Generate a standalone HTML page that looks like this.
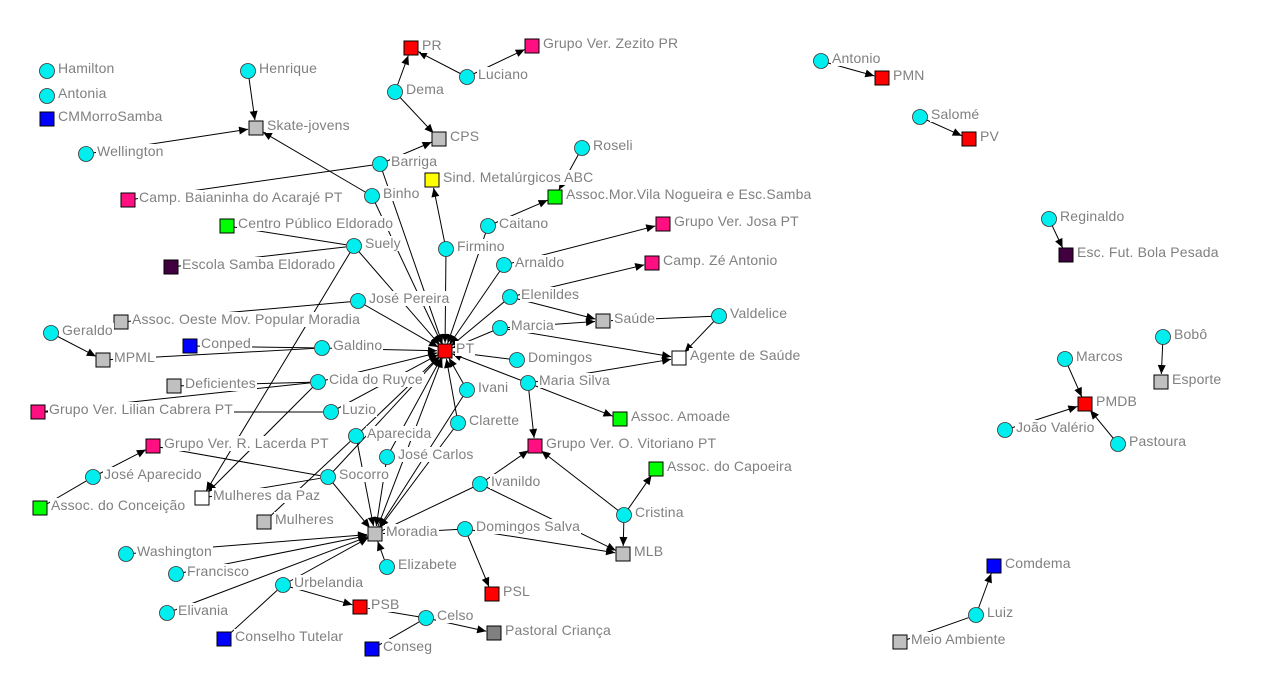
<!DOCTYPE html>
<html><head><meta charset="utf-8"><style>
html,body{margin:0;padding:0;background:#fff;}
#c{position:relative;width:1262px;height:699px;overflow:hidden;}
svg{position:absolute;left:0;top:0;}
.l{position:absolute;font-family:"Liberation Sans",sans-serif;font-size:14px;letter-spacing:0.15px;line-height:15px;color:#808080;background:#fff;white-space:nowrap;padding:0 1px;}
</style></head><body><div id="c"><svg id="s" width="1262" height="699"></svg></div>
<script>
var N={
Hamilton:[47,71,'c'],Antonia:[47,96,'c'],Henrique:[248,71,'c'],Wellington:[86,154,'c'],Dema:[395,92,'c'],Luciano:[467,77,'c'],
Antonio:[821,61,'c'],'Salomé':[920,117,'c'],Roseli:[582,148,'c'],Barriga:[380,164,'c'],Binho:[372,196,'c'],Caitano:[488,226,'c'],
Suely:[354,246,'c'],Firmino:[446,249,'c'],Arnaldo:[504,265,'c'],Reginaldo:[1049,219,'c'],Elenildes:[510,297,'c'],'José Pereira':[358,301,'c'],
Valdelice:[719,316,'c'],Marcia:[500,328,'c'],Geraldo:[51,333,'c'],'Bobô':[1163,337,'c'],Galdino:[322,348,'c'],Domingos:[517,360,'c'],
Marcos:[1065,359,'c'],Ivani:[467,390,'c'],'Cida do Ruyce':[318,382,'c'],'Maria Silva':[528,383,'c'],Luzio:[331,412,'c'],Clarette:[458,423,'c'],
Aparecida:[356,436,'c'],'João Valério':[1005,430,'c'],Pastoura:[1118,444,'c'],'José Carlos':[387,457,'c'],Socorro:[328,477,'c'],
'José Aparecido':[93,477,'c'],Ivanildo:[480,484,'c'],Cristina:[624,515,'c'],'Domingos Salva':[465,529,'c'],Washington:[126,554,'c'],
Elizabete:[387,567,'c'],Francisco:[176,574,'c'],Urbelandia:[283,585,'c'],Elivania:[167,613,'c'],Celso:[426,618,'c'],Luiz:[976,615,'c'],
PR:[411,48,'#ff0000'],'Grupo Ver. Zezito PR':[532,46,'#ff0f7f'],CMMorroSamba:[47,119,'#0000ff'],'Skate-jovens':[256,128,'#c0c0c0'],
CPS:[439,139,'#c0c0c0'],PMN:[882,78,'#ff0000'],PV:[969,139,'#ff0000'],'Sind. Metalúrgicos ABC':[432,180,'#ffff00'],
'Assoc.Mor.Vila Nogueira e Esc.Samba':[555,197,'#00ff00'],'Camp. Baianinha do Acarajé PT':[128,200,'#ff0f7f'],
'Centro Público Eldorado':[227,226,'#00ff00'],'Grupo Ver. Josa PT':[663,224,'#ff0f7f'],'Escola Samba Eldorado':[171,267,'#400040'],
'Camp. Zé Antonio':[652,263,'#ff0f7f'],'Esc. Fut. Bola Pesada':[1066,255,'#400040'],'Assoc. Oeste Mov. Popular Moradia':[121,322,'#c0c0c0'],
'Saúde':[603,321,'#c0c0c0'],Conped:[190,346,'#0000ff'],PT:[445,351,'#ff0000'],MPML:[103,360,'#c0c0c0'],'Agente de Saúde':[679,358,'#ffffff'],
Deficientes:[174,386,'#c0c0c0'],Esporte:[1161,382,'#c0c0c0'],'Grupo Ver. Lilian Cabrera PT':[38,412,'#ff0f7f'],PMDB:[1085,404,'#ff0000'],
'Assoc. Amoade':[620,419,'#00ff00'],'Grupo Ver. R. Lacerda PT':[153,446,'#ff0f7f'],'Grupo Ver. O. Vitoriano PT':[535,446,'#ff0f7f'],
'Assoc. do Capoeira':[656,469,'#00ff00'],'Mulheres da Paz':[202,498,'#ffffff'],'Assoc. do Conceição':[40,508,'#00ff00'],
Mulheres:[264,522,'#c0c0c0'],Moradia:[375,534,'#c0c0c0'],MLB:[623,554,'#c0c0c0'],Comdema:[994,566,'#0000ff'],PSL:[492,594,'#ff0000'],
PSB:[360,607,'#ff0000'],'Pastoral Criança':[494,633,'#808080'],'Meio Ambiente':[900,642,'#c0c0c0'],Conseg:[372,649,'#0000ff'],
'Conselho Tutelar':[224,639,'#0000ff']};
var E=[
['Henrique','Skate-jovens',1],['Binho','Skate-jovens',1],['Wellington','Skate-jovens',1],['Dema','PR',1],['Dema','CPS',1],['Luciano','PR',1],
['Luciano','Grupo Ver. Zezito PR',1],['Barriga','CPS',1],['Camp. Baianinha do Acarajé PT','Barriga',0],['Firmino','Sind. Metalúrgicos ABC',1],
['Caitano','Assoc.Mor.Vila Nogueira e Esc.Samba',1],['Roseli','Assoc.Mor.Vila Nogueira e Esc.Samba',1],['Arnaldo','Grupo Ver. Josa PT',1],
['Elenildes','Camp. Zé Antonio',1],['Elenildes','Saúde',1],['Marcia','Saúde',1],['Valdelice','Saúde',0],['Valdelice','Agente de Saúde',1],
['Marcia','Agente de Saúde',1],['Maria Silva','Agente de Saúde',1],['Maria Silva','Assoc. Amoade',1],['Maria Silva','Grupo Ver. O. Vitoriano PT',1],
['Ivanildo','Grupo Ver. O. Vitoriano PT',1],['Cristina','Grupo Ver. O. Vitoriano PT',1],['Cristina','Assoc. do Capoeira',1],['Cristina','MLB',1],
['Domingos Salva','MLB',1],['Ivanildo','MLB',1],['Domingos Salva','PSL',1],['Domingos Salva','Moradia',0],['Ivanildo','Moradia',0],
['Antonio','PMN',1],['Salomé','PV',1],['Reginaldo','Esc. Fut. Bola Pesada',1],['Bobô','Esporte',1],['Marcos','PMDB',1],['João Valério','PMDB',1],
['Pastoura','PMDB',1],['Luiz','Comdema',1],['Meio Ambiente','Luiz',0],['Geraldo','MPML',1],['MPML','Galdino',0],['Conped','Galdino',0],
['Assoc. Oeste Mov. Popular Moradia','José Pereira',0],['Deficientes','Cida do Ruyce',0],['Grupo Ver. Lilian Cabrera PT','Luzio',0],
['Grupo Ver. Lilian Cabrera PT','Cida do Ruyce',0],['Grupo Ver. R. Lacerda PT','Socorro',0],['José Aparecido','Grupo Ver. R. Lacerda PT',1],
['Assoc. do Conceição','José Aparecido',0],['Suely','Mulheres da Paz',1],['Cida do Ruyce','Mulheres da Paz',1],['Centro Público Eldorado','Suely',0],
['Escola Samba Eldorado','Suely',0],['Mulheres da Paz','Socorro',0],['Mulheres','Aparecida',0],
['Socorro','Moradia',1],['Aparecida','Moradia',1],['José Carlos','Moradia',1],['Clarette','Moradia',1],['Ivani','Moradia',1],
['Washington','Moradia',1],['Francisco','Moradia',1],['Elivania','Moradia',1],['Urbelandia','Moradia',1],['Elizabete','Moradia',1],
['Conselho Tutelar','Urbelandia',0],['Urbelandia','PSB',1],['Celso','PSB',0],['Celso','Pastoral Criança',1],['Conseg','Celso',0],
['Barriga','PT',1],['Binho','PT',1],['Suely','PT',1],['José Pereira','PT',1],['Firmino','PT',1],['Caitano','PT',1],['Arnaldo','PT',1],
['Elenildes','PT',1],['Marcia','PT',1],['Domingos','PT',1],['Maria Silva','PT',1],['Ivani','PT',1],['Clarette','PT',1],['Galdino','PT',1],
['Cida do Ruyce','PT',1],['Aparecida','PT',1],['José Carlos','PT',1],['Socorro','PT',1],['Luzio','PT',1],['Moradia','PT',1]];
var s='';
E.forEach(function(e){var a=N[e[0]],b=N[e[1]];var dx=b[0]-a[0],dy=b[1]-a[1],L=Math.sqrt(dx*dx+dy*dy),ux=dx/L,uy=dy/L;
var ex=b[0]-ux*8,ey=b[1]-uy*8;s+='<line x1="'+a[0]+'" y1="'+a[1]+'" x2="'+ex+'" y2="'+ey+'" stroke="#000" stroke-width="1"/>';
if(e[2]){var bx=ex-ux*9,by=ey-uy*9;s+='<polygon points="'+ex+','+ey+' '+(bx-uy*4)+','+(by+ux*4)+' '+(bx+uy*4)+','+(by-ux*4)+'" fill="#000"/>';}});
var h='';
for(var k in N){var n=N[k];if(n[2]=='c')s+='<circle cx="'+n[0]+'" cy="'+n[1]+'" r="7.5" fill="#00eeee" stroke="#333" stroke-width="0.8"/>';
else s+='<rect x="'+(n[0]-7)+'" y="'+(n[1]-7)+'" width="14" height="14" fill="'+n[2]+'" stroke="#000" stroke-width="1"/>';
h+='<div class="l" style="left:'+(n[0]+10)+'px;top:'+(n[1]-10)+'px">'+k+'</div>';}
document.getElementById('s').innerHTML=s;
document.getElementById('c').insertAdjacentHTML('beforeend',h);
</script></body></html>
